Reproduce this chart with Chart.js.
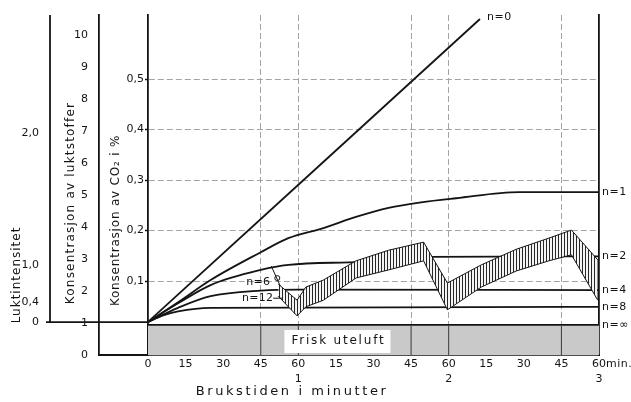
<!DOCTYPE html>
<html><head><meta charset="utf-8">
<script src="https://cdn.jsdelivr.net/npm/chart.js@4.4.1/dist/chart.umd.min.js"></script>
<style>html,body{margin:0;padding:0;background:#fff;}canvas{display:block;}</style>
</head><body>
<canvas id="c" width="631" height="402"></canvas>
<script>
// ---------------- data ----------------
const xTickValues = [0,15,30,45,60,75,90,105,120,135,150,165,180];
const xTickLabels = ['0','15','30','45','60','15','30','45','60','15','30','45','60'];
const hourMarks   = [60,120,180];
const hourLabels  = ['1','2','3'];
const xGridMinutes = [45,60,105,120,165];

const co2TickValues = [0.1,0.2,0.3,0.4,0.5];
const co2TickLabels = ['0,1','0,2','0,3','0,4','0,5'];
const odourTickValues = [0,1,2,3,4,5,6,7,8,9,10];
const odourTickLabels = ['0','1','2','3','4','5','6','7','8','9','10'];
// odour intensity ticks, placed at the odorant concentration they correspond to
const intensityTickAt = [1.03,1.66,2.81,6.94];
const intensityTickLabels = ['0','0,4','1,0','2,0'];

// CO2 concentration (%) against time of use (minutes), n = air changes per hour
const n0T = [0,132.5];
const n0C = [0.019,0.619];
const n1T = [0,12,25,45,56,70,83,96,109,123,148,180];
const n1C = [0.019,0.058,0.102,0.157,0.185,0.205,0.227,0.245,0.256,0.264,0.276,0.276];
const n2T = [0,12,25,45,56,85,112,180];
const n2C = [0.019,0.056,0.092,0.122,0.132,0.138,0.148,0.149];
const n4T = [0,12,25,45,60,180];
const n4C = [0.019,0.047,0.070,0.081,0.083,0.082];
const n8T = [0,6,12,25,180];
const n8C = [0.019,0.032,0.040,0.047,0.049];
const nInfT = [0,180];
const nInfC = [0.013,0.013];
// hatched band (n=6 / n=12, intermittent use)
const bandT     = [52,59.5,63,70,83,96,110,119.5,133,147,160,169,179.5];
const bandUpper = [0.094,0.062,0.088,0.102,0.140,0.161,0.177,0.096,0.132,0.163,0.185,0.201,0.142];
const bandLower = [0.070,0.031,0.049,0.062,0.106,0.122,0.140,0.043,0.088,0.120,0.140,0.152,0.062];

const texts = {
  xTitle: 'Brukstiden i minutter',
  minUnit: 'min.',
  fresh: 'Frisk uteluft',
  intensTitle: 'Luktintensitet',
  odourTitle: 'Konsentrasjon av luktstoffer',
  co2Title: 'Konsentrasjon av CO\u2082 i %',
  n6: 'n=6', n12: 'n=12'
};

// ---------------- styles / layout ----------------
const INK = '#141414';
const GRID = '#a3a3a3';
const BAND_GREY = '#c9c9c9';
const FONT = "'DejaVu Sans', sans-serif";
const CO2_MIN = -0.0465, CO2_MAX = 0.627;
const OD_MIN = 0, OD_MAX = 10.625;
const layoutPos = {
  xTitleMinute: 57.5, xTitleY: 392,
  freshMinute: 76,
  intensTitle: {dx: 17, at: 2.5},
  odourTitle: {dx: 21, at: 4.75},
  co2Title: {dx: 17, at: 0.22}
};

Chart.defaults.font.family = FONT;
Chart.defaults.color = INK;

const cnv = document.getElementById('c');
const ctx0 = cnv.getContext('2d');
const pc = document.createElement('canvas'); pc.width = 3; pc.height = 4;
const pctx = pc.getContext('2d');
pctx.fillStyle = '#f4f4f4'; pctx.fillRect(0,0,3,4);
pctx.fillStyle = '#262626'; pctx.fillRect(0,0,1,4);
const hatch = ctx0.createPattern(pc, 'repeat');

const pts = (ts, cs) => ts.map((t,i) => ({x:t, y:cs[i]}));
const curve = (ts, cs, label, extra) => Object.assign({
  data: pts(ts, cs), borderColor: INK, borderWidth: 1.8, pointRadius: 0,
  fill: false, cubicInterpolationMode: 'monotone', yAxisID: 'co2', order: 5, endLabel: label
}, extra || {});

const datasets = [
  {data: pts(bandT, bandUpper), borderColor: INK, borderWidth: 1, pointRadius: 0, tension: 0,
   fill: '+1', backgroundColor: hatch, yAxisID: 'co2', order: 1},
  {data: pts(bandT, bandLower), borderColor: INK, borderWidth: 1, pointRadius: 0, tension: 0,
   fill: false, yAxisID: 'co2', order: 0},
  curve(n0T, n0C, 'n=0', {atLine: true}),
  curve(n1T, n1C, 'n=1'),
  curve(n2T, n2C, 'n=2'),
  curve(n4T, n4C, 'n=4'),
  curve(n8T, n8C, 'n=8'),
  curve(nInfT, nInfC, 'n=\u221e', {fill: 'start', backgroundColor: BAND_GREY, order: 10})
];

function txt(ctx, s, x, y, align, font, spacing) {
  ctx.font = font; ctx.textAlign = align; ctx.textBaseline = 'middle';
  ctx.letterSpacing = spacing || '0px';
  ctx.fillStyle = INK;
  ctx.fillText(s, x, y);
}
function vtxt(ctx, s, x, y, font, spacing) {
  ctx.save(); ctx.translate(x, y); ctx.rotate(-Math.PI/2);
  txt(ctx, s, 0, 0, 'center', font, spacing); ctx.restore();
}
function seg(ctx, x1, y1, x2, y2) { ctx.beginPath(); ctx.moveTo(x1,y1); ctx.lineTo(x2,y2); ctx.stroke(); }

const extras = {
  id: 'extras',
  afterDraw(chart) {
    const {ctx, chartArea: a, scales} = chart;
    const {x, co2, odour, intens} = scales;
    ctx.save();
    ctx.strokeStyle = INK; ctx.lineWidth = 1.8;
    // intensity axis (ends at intensity 0) and its base line
    const yI0 = intens.getPixelForValue(intensityTickAt[0]);
    seg(ctx, intens.right, a.top, intens.right, yI0);
    seg(ctx, intens.right - 4, yI0, a.left, yI0);
    // base line under the odour-concentration axis
    seg(ctx, odour.right, a.bottom, a.left, a.bottom);
    // dark verticals inside the fresh-air band
    ctx.lineWidth = 1; ctx.strokeStyle = '#3a3a3a';
    const yInf = co2.getPixelForValue(nInfC[0]);
    xGridMinutes.forEach(m => { const px = x.getPixelForValue(m); seg(ctx, px, yInf, px, a.bottom); });
    // "Frisk uteluft" label box
    const fFont = `12px ${FONT}`;
    ctx.font = fFont; ctx.letterSpacing = '1.8px';
    const fw = ctx.measureText(texts.fresh).width;
    const fx = x.getPixelForValue(layoutPos.freshMinute);
    const fy = (yInf + a.bottom) / 2 + 1;
    ctx.fillStyle = '#fff';
    ctx.fillRect(fx - fw/2 - 7, fy - 11, fw + 12, 23);
    txt(ctx, texts.fresh, fx, fy, 'center', fFont, '1.8px');
    // series labels
    chart.data.datasets.forEach(ds => {
      if (!ds.endLabel) return;
      const last = ds.data[ds.data.length - 1];
      if (ds.atLine) {
        txt(ctx, ds.endLabel, x.getPixelForValue(last.x) + 7, co2.getPixelForValue(last.y) - 2, 'left', `11px ${FONT}`, '0.5px');
      } else {
        txt(ctx, ds.endLabel, a.right + 3, co2.getPixelForValue(last.y), 'left', `11px ${FONT}`, '0.5px');
      }
    });
    // n=6 / n=12 labels with leaders at the band start
    const bx = x.getPixelForValue(bandT[0]);
    const byU = co2.getPixelForValue(bandUpper[0]);
    const byL = co2.getPixelForValue(bandLower[0]);
    txt(ctx, texts.n6, bx - 8, byU - 2, 'right', `11px ${FONT}`, '0.3px');
    txt(ctx, texts.n12, bx - 5, byL + 2, 'right', `11px ${FONT}`, '0.3px');
    ctx.strokeStyle = INK; ctx.lineWidth = 1;
    seg(ctx, bx - 7, byU - 18, bx + 2, byU + 2);
    ctx.beginPath(); ctx.arc(bx - 1, byU - 6, 2.5, 0, Math.PI*2); ctx.stroke();
    seg(ctx, bx - 5, byL + 2, bx + 4, byL + 2);
    // "min." after last tick label
    txt(ctx, texts.minUnit, x.getPixelForValue(180) + 7, x.top + 9, 'left', `11px ${FONT}`, '0.5px');
    // x title
    txt(ctx, texts.xTitle, x.getPixelForValue(layoutPos.xTitleMinute), layoutPos.xTitleY, 'center', `13px ${FONT}`, '2.6px');
    // y titles
    vtxt(ctx, texts.intensTitle, intens.left + layoutPos.intensTitle.dx, odour.getPixelForValue(layoutPos.intensTitle.at), `12px ${FONT}`, '1px');
    vtxt(ctx, texts.odourTitle, odour.left + layoutPos.odourTitle.dx, odour.getPixelForValue(layoutPos.odourTitle.at), `12px ${FONT}`, '1.2px');
    vtxt(ctx, texts.co2Title, co2.left + layoutPos.co2Title.dx, co2.getPixelForValue(layoutPos.co2Title.at), `12px ${FONT}`, '0.8px');
    ctx.restore();
  }
};

const tickFont = {size: 11, family: FONT};

new Chart(cnv, {
  type: 'line',
  data: {datasets},
  options: {
    responsive: false, animation: false, devicePixelRatio: 1,
    layout: {padding: {left: 0, right: 32, top: 15, bottom: 0}},
    plugins: {legend: {display: false}, tooltip: {enabled: false}},
    scales: {
      x: {
        type: 'linear', min: 0, max: 180,
        afterBuildTicks: s => { s.ticks = xTickValues.map(v => ({value: v})); },
        afterFit: s => { s.height = 47; },
        ticks: {
          autoSkip: false, maxRotation: 0, padding: 2, color: INK,
          font: {size: 11, family: FONT, lineHeight: 1.36},
          callback: (v, i) => { const h = hourMarks.indexOf(v); return h >= 0 ? [xTickLabels[i], hourLabels[h]] : xTickLabels[i]; }
        },
        grid: {color: c => (c.tick && xGridMinutes.includes(c.tick.value)) ? GRID : 'rgba(0,0,0,0)', lineWidth: 1, drawTicks: false},
        border: {display: true, color: INK, width: 1.8, dash: [6,3]}
      },
      co2: {
        type: 'linear', position: 'left', weight: 1, min: CO2_MIN, max: CO2_MAX,
        afterBuildTicks: s => { s.ticks = co2TickValues.map(v => ({value: v})); },
        afterFit: s => { s.width = 49; },
        ticks: {autoSkip: false, padding: 1, color: INK, font: tickFont, callback: (v, i) => co2TickLabels[i]},
        grid: {color: GRID, lineWidth: 1, drawTicks: true, tickLength: 3, tickColor: INK, tickWidth: 1.5},
        border: {display: true, color: INK, width: 1.8, dash: [6,3]}
      },
      odour: {
        type: 'linear', position: 'left', weight: 2, min: OD_MIN, max: OD_MAX,
        afterBuildTicks: s => { s.ticks = odourTickValues.map(v => ({value: v})); },
        afterFit: s => { s.width = 49; },
        ticks: {autoSkip: false, padding: 3, color: INK, font: tickFont, callback: (v, i) => odourTickLabels[i]},
        grid: {display: false},
        border: {display: true, color: INK, width: 1.8}
      },
      intens: {
        type: 'linear', position: 'left', weight: 3, min: OD_MIN, max: OD_MAX,
        afterBuildTicks: s => { s.ticks = intensityTickAt.map(v => ({value: v})); },
        afterFit: s => { s.width = 50; },
        ticks: {autoSkip: false, padding: 3, color: INK, font: tickFont, callback: (v, i) => intensityTickLabels[i]},
        grid: {display: false},
        border: {display: false}
      },
      rgt: {
        type: 'linear', position: 'right', min: CO2_MIN, max: CO2_MAX,
        afterFit: s => { s.width = 0; },
        ticks: {display: false},
        grid: {display: false},
        border: {display: true, color: INK, width: 1.8}
      }
    }
  },
  plugins: [extras]
});
</script>
</body></html>
